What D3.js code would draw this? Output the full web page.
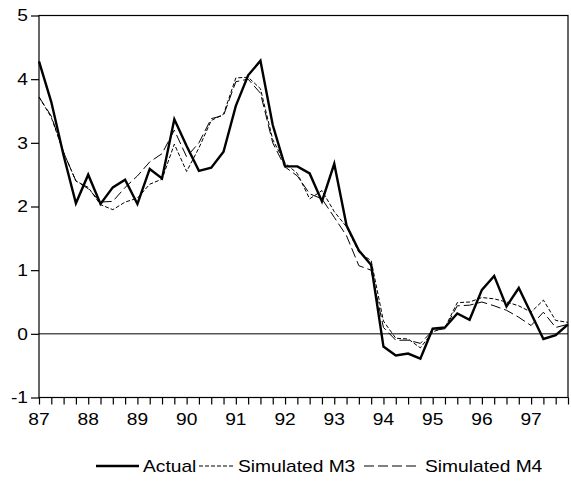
<!DOCTYPE html>
<html>
<head>
<meta charset="utf-8">
<script src="https://cdn.jsdelivr.net/npm/d3@7"></script>
<style>
  html, body { margin: 0; padding: 0; background: #fff; }
  svg { display: block; }
  text { font-family: "Liberation Sans", Arial, sans-serif; font-size: 16px; fill: #000; }
</style>
</head>
<body>
<svg id="chart" width="571" height="484"></svg>
<script>
// Quarterly observations, 1987Q1 .. 1997Q4
const quarters = d3.range(44);
const yearLabels = ["87", "88", "89", "90", "91", "92", "93", "94", "95", "96", "97"];
const yTicks = [-1, 0, 1, 2, 3, 4, 5];

const actual = [
  4.28, 3.64, 2.80, 2.05, 2.50, 2.04, 2.30, 2.42,
  2.04, 2.59, 2.44, 3.37, 2.95, 2.56, 2.61, 2.86,
  3.58, 4.06, 4.29, 3.28, 2.63, 2.63, 2.52, 2.08,
  2.67, 1.70, 1.31, 1.08, -0.20, -0.34, -0.31, -0.39,
  0.08, 0.10, 0.32, 0.22, 0.69, 0.91, 0.43, 0.72,
  0.32, -0.08, -0.02, 0.15
];
const simM3 = [
  3.72, 3.40, 2.85, 2.40, 2.30, 2.03, 1.95, 2.07,
  2.13, 2.35, 2.43, 2.98, 2.55, 2.92, 3.35, 3.45,
  4.02, 4.03, 3.85, 3.05, 2.68, 2.52, 2.12, 2.25,
  1.92, 1.68, 1.28, 1.15, 0.20, -0.07, -0.08, -0.22,
  0.03, 0.10, 0.49, 0.50, 0.57, 0.55, 0.50, 0.44,
  0.34, 0.53, 0.21, 0.18
];
const simM4 = [
  3.72, 3.42, 2.85, 2.40, 2.28, 2.07, 2.08, 2.30,
  2.48, 2.70, 2.83, 3.20, 2.78, 3.00, 3.38, 3.43,
  3.96, 4.00, 3.78, 3.00, 2.62, 2.48, 2.20, 2.12,
  1.83, 1.54, 1.07, 1.00, 0.10, -0.10, -0.10, -0.15,
  0.05, 0.08, 0.44, 0.45, 0.50, 0.44, 0.37, 0.26,
  0.13, 0.34, 0.10, 0.15
];

const series = [
  { name: "Actual",       values: actual, width: 2.4, dash: null },
  { name: "Simulated M3", values: simM3,  width: 1,   dash: "4,2" },
  { name: "Simulated M4", values: simM4,  width: 1,   dash: "10,4" }
];

const svg = d3.select("#chart");
const plotLeft = 39, plotRight = 568, plotTop = 15.5, plotBottom = 397.5;
const sx = 1.2; // horizontal stretch of the lettering

const x = d3.scaleLinear().domain([0, 43]).range([plotLeft, plotRight]);
const y = d3.scaleLinear().domain([-1, 5]).range([plotBottom, plotTop]);

// zero reference line
svg.append("line")
  .attr("x1", plotLeft).attr("x2", plotRight)
  .attr("y1", y(0)).attr("y2", y(0))
  .attr("stroke", "#000").attr("stroke-width", 1);

// series
const line = d3.line().x((d, i) => x(i)).y(d => y(d));
series.slice().reverse().forEach(s => {
  svg.append("path")
    .datum(s.values)
    .attr("d", line)
    .attr("fill", "none")
    .attr("stroke", "#000")
    .attr("stroke-width", s.width)
    .attr("stroke-linejoin", "miter")
    .attr("stroke-dasharray", s.dash);
});

// frame
svg.append("rect")
  .attr("x", plotLeft).attr("y", plotTop)
  .attr("width", plotRight - plotLeft).attr("height", plotBottom - plotTop)
  .attr("fill", "none").attr("stroke", "#000").attr("stroke-width", 1.2);

// y axis
const yAxis = svg.append("g").attr("transform", `translate(${plotLeft},0)`)
  .call(d3.axisLeft(y).tickValues(yTicks).tickSize(8).tickFormat(""));
yAxis.select(".domain").remove();
yAxis.selectAll("line").attr("stroke-width", 1.2);
yTicks.forEach(v => {
  svg.append("text")
    .attr("transform", `translate(28,${y(v)}) scale(${sx},1)`)
    .attr("text-anchor", "end")
    .attr("dy", "0.36em")
    .text(String(v));
});

// x axis: a tick per quarter, labelled at each year's first quarter
const xAxis = svg.append("g").attr("transform", `translate(0,${plotBottom})`)
  .call(d3.axisBottom(x).tickValues(quarters).tickSize(7).tickFormat(""));
xAxis.select(".domain").remove();
xAxis.selectAll("line").attr("stroke-width", 1.2);
yearLabels.forEach((lab, k) => {
  svg.append("text")
    .attr("transform", `translate(${x(k * 4)},424.5) scale(${sx},1)`)
    .attr("text-anchor", "middle")
    .text(lab);
});

// legend
const legendY = 466;
const legendItems = [
  { s: series[0], x0: 96,  x1: 139, tx: 143 },
  { s: series[1], x0: 199, x1: 234, tx: 238 },
  { s: series[2], x0: 364, x1: 420, tx: 425 }
];
legendItems.forEach(it => {
  svg.append("line")
    .attr("x1", it.x0).attr("x2", it.x1)
    .attr("y1", legendY).attr("y2", legendY)
    .attr("stroke", "#000")
    .attr("stroke-width", it.s.width)
    .attr("stroke-dasharray", it.s.dash);
  svg.append("text")
    .attr("transform", `translate(${it.tx},${legendY}) scale(${sx},1)`)
    .attr("dy", "0.36em")
    .text(it.s.name);
});
</script>
</body>
</html>
